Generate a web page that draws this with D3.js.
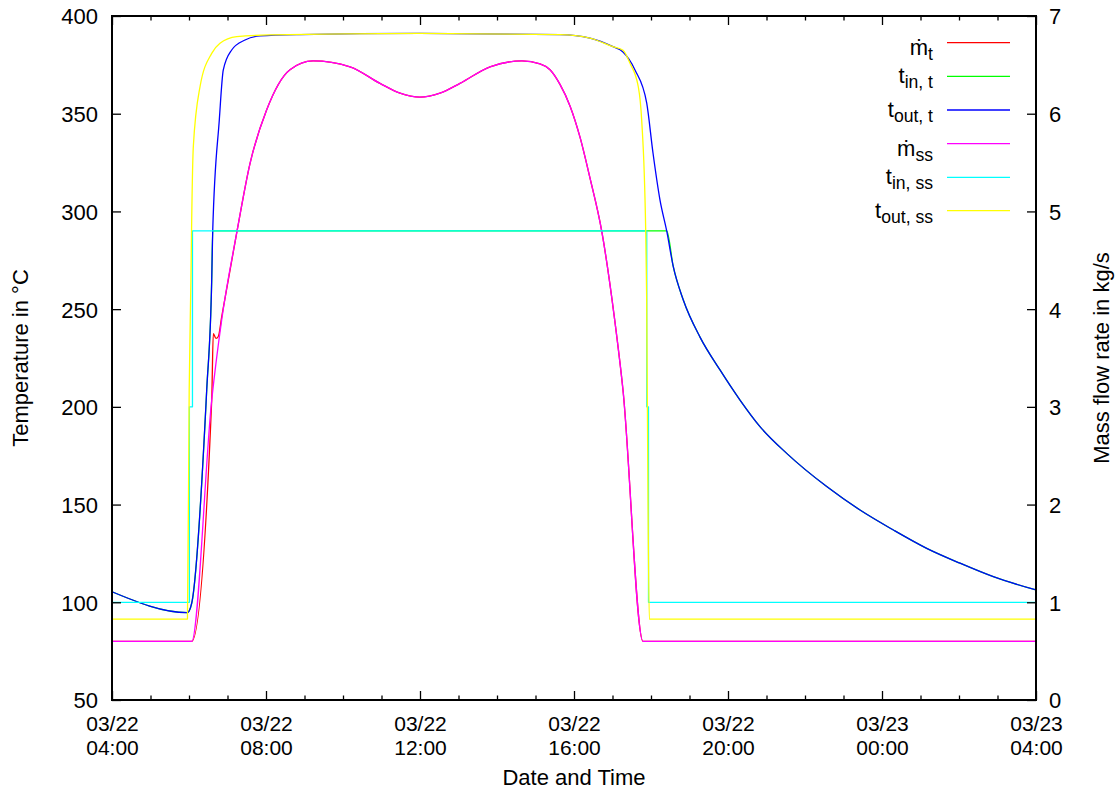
<!DOCTYPE html>
<html>
<head>
<meta charset="utf-8">
<script src="https://cdn.jsdelivr.net/npm/d3@7/dist/d3.min.js"></script>
<style>
  html, body { margin: 0; padding: 0; background: #fff; }
  svg { display: block; font-family: "Liberation Sans", Arial, Helvetica, sans-serif; }
</style>
</head>
<body>
<svg id="chart" width="1120" height="792"></svg>
<script>
// ---- Data (time in decimal hours since 03/22 00:00) ----
const xMajorTicks = [4, 8, 12, 16, 20, 24, 28];
const xMinorTicks = [5,6,7,9,10,11,13,14,15,17,18,19,21,22,23,25,26,27];
const xTickLabels = [["03/22","04:00"],["03/22","08:00"],["03/22","12:00"],["03/22","16:00"],["03/22","20:00"],["03/23","00:00"],["03/23","04:00"]];
const yLeftTicks = [50, 100, 150, 200, 250, 300, 350, 400];
const yRightTicks = [0, 1, 2, 3, 4, 5, 6, 7];

// mass flow rate, transient (kg/s)
const mT = [[4,0.6],[6.07,0.6],[6.59,3.07],[6.631,3.75],[6.701,3.70],[6.761,3.72],[6.849,3.92],[7.239,4.78],[7.584,5.49],[8.018,6.04],[8.623,6.45],[9.221,6.54],[10.182,6.48],[10.961,6.31],[11.481,6.21],[12,6.17],[12.519,6.21],[13.039,6.31],[13.818,6.48],[14.649,6.54],[15.117,6.51],[15.377,6.45],[15.636,6.30],[15.896,6.08],[16.156,5.76],[16.416,5.34],[16.719,4.80],[17.057,3.89],[17.273,3.17],[17.792,0.6],[28,0.6]];
// inlet temperature, transient (°C)
const tInT = [[4,105.4],[5.956,94.7],[6.07,99.5],[6.46,208.6],[6.59,264.9],[6.616,290],[18.408,290],[18.579,271.7],[18.839,254.7],[19.273,235.7],[19.792,218.9],[20.312,203.5],[20.831,189.9],[21.525,176.2],[22.564,159.2],[23.429,147.2],[24.294,137.0],[25.161,127.6],[26.026,120.0],[26.891,113.1],[28,106.3]];
// outlet temperature, transient (°C)
const tOutT = [[4,105.4],[5.956,94.7],[6.07,99.5],[6.46,208.6],[6.59,264.9],[6.616,290],[6.787,346.8],[6.891,372.4],[7.109,382.6],[7.455,387.7],[7.844,389.8],[8.883,390.5],[12,391.1],[15.636,390.5],[16.416,388.7],[17.013,384.3],[17.273,381.6],[17.584,372.4],[17.888,355.5],[18.052,329.9],[18.234,305.8],[18.408,290],[18.579,271.7],[18.839,254.7],[19.273,235.7],[19.792,218.9],[20.312,203.5],[20.831,189.9],[21.525,176.2],[22.564,159.2],[23.429,147.2],[24.294,137.0],[25.161,127.6],[26.026,120.0],[26.891,113.1],[28,106.3]];
// mass flow rate, steady state (kg/s)
const mSS = [[4,0.6],[6.07,0.6],[6.59,3.07],[6.849,3.89],[7.239,4.78],[7.584,5.49],[8.018,6.04],[8.623,6.45],[9.221,6.54],[10.182,6.48],[10.961,6.31],[11.481,6.21],[12,6.17],[12.519,6.21],[13.039,6.31],[13.818,6.48],[14.649,6.54],[15.117,6.51],[15.377,6.45],[15.636,6.30],[15.896,6.08],[16.156,5.76],[16.416,5.34],[16.719,4.80],[17.057,3.89],[17.273,3.17],[17.792,0.6],[28,0.6]];
// inlet temperature, steady state (°C)
const tInSS = [[4,100],[6.01,100],[6.01,200],[6.09,200],[6.09,290],[17.89,290],[17.89,200],[17.935,200],[17.935,100],[28,100]];
// outlet temperature, steady state (°C)
const tOutSS = [[4,91.4],[5.96,91.4],[6.005,208.6],[6.05,265],[6.07,295.6],[6.112,333.1],[6.286,363.8],[6.59,380.9],[6.805,386],[7.239,389.4],[8.104,390.3],[12,391.1],[15.636,390.5],[16.416,388.7],[17.013,384.3],[17.273,382.5],[17.455,375.8],[17.670,363.8],[17.758,346.8],[17.862,290.5],[17.888,254.7],[17.922,152.3],[17.956,91.4],[28,91.4]];

const seriesColors = ["#ff0000","#00ff00","#0000ff","#ff00ff","#00ffff","#ffff00"];

// ---- Layout ----
const svg = d3.select("#chart");
const L = 112, R = 1036, T = 16, B = 700;
const FS = 22;

const x = d3.scaleLinear().domain([4, 28]).range([L, R]);
const yL = d3.scaleLinear().domain([50, 400]).range([B, T]);
const yR = d3.scaleLinear().domain([0, 7]).range([B, T]);

// ---- Lines ----
const g = svg.append("g");
function draw(data, yScale, color, curve) {
  const line = d3.line().x(d => x(d[0])).y(d => yScale(d[1])).curve(curve);
  g.append("path").attr("d", line(data)).attr("fill", "none")
    .attr("stroke", color).attr("stroke-width", 1.3).attr("stroke-linejoin", "round");
}
draw(mT, yR, seriesColors[0], d3.curveMonotoneX);
draw(tInT, yL, seriesColors[1], d3.curveMonotoneX);
draw(tOutT, yL, seriesColors[2], d3.curveMonotoneX);
draw(mSS, yR, seriesColors[3], d3.curveMonotoneX);
draw(tInSS, yL, seriesColors[4], d3.curveLinear);
draw(tOutSS, yL, seriesColors[5], d3.curveMonotoneX);

// ---- Axes ----
function styleAxis(sel) {
  sel.select(".domain").remove();
  sel.selectAll(".tick line").attr("stroke", "#000").attr("stroke-width", 1.3);
  sel.selectAll(".tick text").attr("fill", "#000").style("font-size", FS + "px")
     .style("font-family", '"Liberation Sans", Arial, sans-serif');
}
function noLabels(sel) { sel.selectAll(".tick text").remove(); }
// left
const axL = svg.append("g").attr("transform", `translate(${L},0)`)
  .call(d3.axisLeft(yL).tickValues(yLeftTicks).tickSize(-9).tickPadding(14).tickFormat(d3.format("d")));
styleAxis(axL);
axL.selectAll(".tick text").attr("dy", "0.36em");
// right
const axR = svg.append("g").attr("transform", `translate(${R},0)`)
  .call(d3.axisRight(yR).tickValues(yRightTicks).tickSize(-9).tickPadding(13).tickFormat(d3.format("d")));
styleAxis(axR);
axR.selectAll(".tick text").attr("dy", "0.36em");
// bottom major
const axB = svg.append("g").attr("transform", `translate(0,${B})`)
  .call(d3.axisBottom(x).tickValues(xMajorTicks).tickSize(-9).tickFormat(() => ""));
styleAxis(axB);
noLabels(axB);
axB.selectAll(".tick").each(function(d, i) {
  const tk = d3.select(this);
  tk.append("text").attr("x", 0).attr("y", 31).attr("text-anchor", "middle")
    .attr("fill", "#000").style("font-size", "21px").text(xTickLabels[i][0]);
  tk.append("text").attr("x", 0).attr("y", 54.5).attr("text-anchor", "middle")
    .attr("fill", "#000").style("font-size", "21px").text(xTickLabels[i][1]);
});
// bottom minor
const axBm = svg.append("g").attr("transform", `translate(0,${B})`)
  .call(d3.axisBottom(x).tickValues(xMinorTicks).tickSize(-4.5).tickFormat(() => ""));
styleAxis(axBm); noLabels(axBm);
// top major + minor (mirror)
const axT = svg.append("g").attr("transform", `translate(0,${T})`)
  .call(d3.axisTop(x).tickValues(xMajorTicks).tickSize(-9).tickFormat(() => ""));
styleAxis(axT); noLabels(axT);
const axTm = svg.append("g").attr("transform", `translate(0,${T})`)
  .call(d3.axisTop(x).tickValues(xMinorTicks).tickSize(-4.5).tickFormat(() => ""));
styleAxis(axTm); noLabels(axTm);

// border
svg.append("rect").attr("x", L).attr("y", T).attr("width", R - L).attr("height", B - T)
  .attr("fill", "none").attr("stroke", "#000").attr("stroke-width", 2);

// ---- Axis titles ----
svg.append("text").attr("x", (L + R) / 2).attr("y", 785).attr("text-anchor", "middle")
  .style("font-size", FS + "px").text("Date and Time");
svg.append("text").attr("transform", `translate(28,${(T + B) / 2}) rotate(-90)`)
  .attr("text-anchor", "middle").style("font-size", FS + "px").text("Temperature in °C");
svg.append("text").attr("transform", `translate(1109,${(T + B) / 2}) rotate(-90)`)
  .attr("text-anchor", "middle").style("font-size", FS + "px").text("Mass flow rate in kg/s");

// ---- Legend ----
const legendItems = [
  {main: "ṁ", sub: "t", dot: true},
  {main: "t", sub: "in, t", dot: false},
  {main: "t", sub: "out, t", dot: false},
  {main: "ṁ", sub: "ss", dot: true},
  {main: "t", sub: "in, ss", dot: false},
  {main: "t", sub: "out, ss", dot: false}
];
const legendY = [42.7, 76.3, 110, 143.7, 177.3, 210.7];
legendItems.forEach((it, i) => {
  const ly = legendY[i];
  svg.append("line").attr("x1", 947).attr("x2", 1010).attr("y1", ly).attr("y2", ly)
    .attr("stroke", seriesColors[i]).attr("stroke-width", 1.3);
  const t = svg.append("text").attr("x", 933).attr("y", ly + (it.dot ? 12 : 7))
    .attr("text-anchor", "end").style("font-size", FS + "px");
  t.append("tspan").text(it.main);
  t.append("tspan").attr("dy", 5).style("font-size", (FS * 0.8) + "px").text(it.sub);
});
</script>
</body>
</html>
